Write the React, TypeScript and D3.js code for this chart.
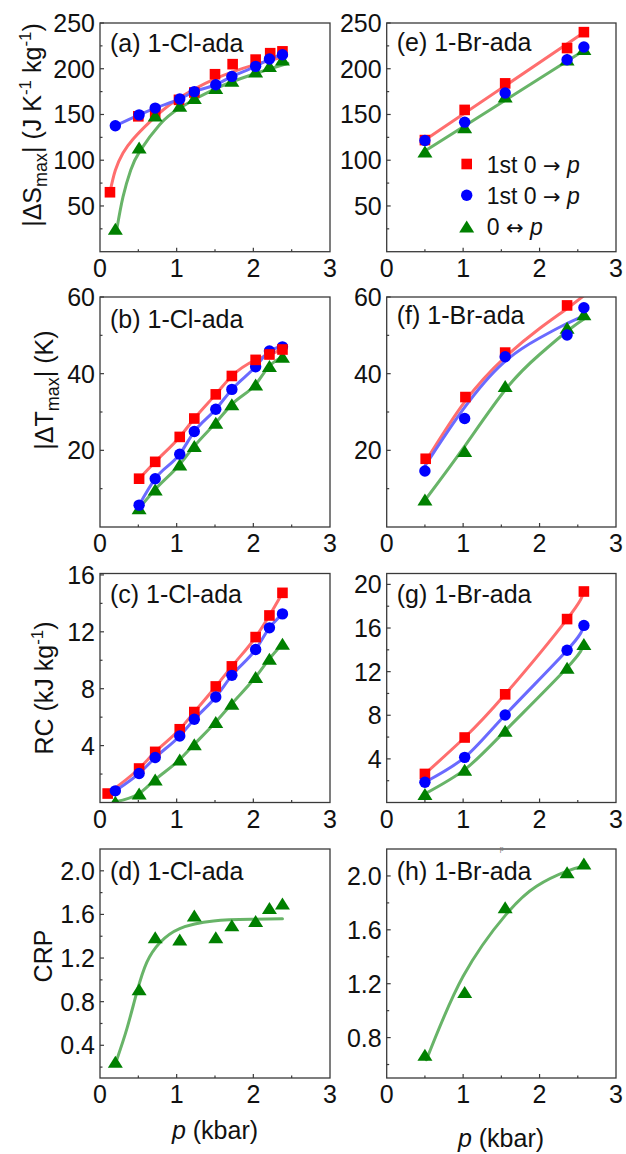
import React from 'react';
import * as d3 from 'd3';

// ---------------- DATA ----------------
// 1-Cl-ada pressures (kbar)
const clP = [0.2, 0.51, 0.72, 1.04, 1.23, 1.51, 1.72, 2.03, 2.21, 2.38];
const clPRedA = [0.13, 0.5, 0.72, 1.03, 1.23, 1.5, 1.73, 2.03, 2.22, 2.38];
const clPRedC = [0.1, 0.51, 0.72, 1.04, 1.23, 1.51, 1.72, 2.03, 2.21, 2.38];
const clPb = [0.51, 0.72, 1.04, 1.23, 1.51, 1.72, 2.03, 2.21, 2.38];
// 1-Br-ada pressures (kbar)
const brP = [0.5, 1.02, 1.55, 2.36, 2.58];
const brPRedF = [0.51, 1.03, 1.55, 2.36];

// (a) |ΔS_max| 1-Cl-ada
const aRed = [65, 148, 152, 166, 174, 194, 205, 210, 217, 219];
const aBlue = [137.6, 149.6, 157, 167, 175, 182.5, 191.6, 202.6, 210.6, 215.3];
const aGreen = [25, 114, 149, 159.5, 168, 179, 187, 197, 203, 210];
const aRedFitP = [0.13, 0.2, 0.3, 0.43, 0.65, 1.0, 1.5, 2.0, 2.4];
const aRedFit = [65, 89, 108, 123, 142, 166, 189, 204, 213];
const aGreenFitP = [0.22, 0.3, 0.4, 0.52, 0.78, 1.04, 1.5, 2.0, 2.45];
const aGreenFit = [25, 60, 89, 110, 139, 157, 178, 194, 206];

// (b) |ΔT_max| 1-Cl-ada
const bRed = [12.6, 17.0, 23.5, 28.3, 34.6, 39.4, 43.6, 45.0, 46.3];
const bBlue = [5.7, 12.6, 19.0, 24.9, 30.7, 35.9, 41.8, 45.9, 47.0];
const bGreen = [4.9, 9.8, 16.3, 21.1, 27.2, 32.0, 37.2, 42.0, 44.4];

// (c) RC 1-Cl-ada
const cRed = [0.63, 2.39, 3.56, 5.15, 6.36, 8.16, 9.57, 11.63, 13.15, 14.74];
const cBlue = [0.82, 2.04, 3.16, 4.68, 5.85, 7.42, 8.94, 10.76, 12.28, 13.26];
const cGreen = [0.05, 0.63, 1.61, 3.02, 4.09, 5.66, 6.95, 8.82, 10.1, 11.16];

// (d) CRP 1-Cl-ada
const dGreen = [0.25, 0.915, 1.39, 1.37, 1.59, 1.39, 1.5, 1.54, 1.66, 1.7];
const dFitP = [0.22, 0.35, 0.48, 0.61, 0.78, 1.04, 1.48, 2.0, 2.38];
const dFit = [0.27, 0.55, 0.885, 1.16, 1.34, 1.47, 1.54, 1.555, 1.56];

// (e) |ΔS_max| 1-Br-ada
const eRed = [122, 155, 184, 222.6, 240];
const eBlue = [121.5, 141.6, 173.4, 209.9, 223.7];
const eGreen = [109.5, 136, 169.7, 210, 221.5];
const eRedFitP = [0.5, 2.57];
const eRedFit = [122, 239];
const eGreenFitP = [0.5, 2.6];
const eGreenFit = [110, 221];

// (f) |ΔT_max| 1-Br-ada
const fRed = [17.8, 33.9, 45.5, 57.8];
const fBlue = [14.6, 28.3, 44.4, 50.1, 57.2];
const fGreen = [7.2, 19.8, 36.8, 52.0, 55.5];
const fRedFitP = [0.5, 1.03, 1.55, 2.0, 2.36, 2.62];
const fRedFit = [16.8, 32.9, 44.3, 51.8, 57.0, 61];
const fBlueFitP = [0.5, 1.0, 1.53, 2.0, 2.3, 2.57];
const fBlueFit = [15.9, 30.7, 42.9, 49.3, 52.5, 55.0];
const fGreenFitP = [0.52, 1.0, 1.56, 2.0, 2.38, 2.62];
const fGreenFit = [7.5, 20.5, 36.0, 45.0, 51.4, 54.8];

// (g) RC 1-Br-ada
const gRed = [2.62, 5.96, 9.92, 16.82, 19.35];
const gBlue = [1.86, 4.14, 8.03, 13.96, 16.24];
const gGreen = [0.79, 3.01, 6.57, 12.35, 14.54];

// (h) CRP 1-Br-ada
const hGreen = [0.672, 1.138, 1.768, 2.028, 2.093];
const hFitP = [0.52, 1.0, 1.56, 1.96, 2.36, 2.62];
const hFit = [0.635, 1.255, 1.713, 1.924, 2.036, 2.08];

// axis ticks
const xTicks = [0, 1, 2, 3];
const xMinor = [0.5, 1.5, 2.5];
const sTicks = [50, 100, 150, 200, 250];
const sMinor = [25, 75, 125, 175, 225];
const tTicks = [20, 40, 60];
const tMinor = [10, 30, 50];
const rcClTicks = [4, 8, 12, 16];
const rcClMinor = [2, 6, 10, 14];
const rcBrTicks = [4, 8, 12, 16, 20];
const rcBrMinor = [2, 6, 10, 14, 18];
const crpClTicks = [0.4, 0.8, 1.2, 1.6, 2.0];
const crpClMinor = [0.2, 0.6, 1.0, 1.4, 1.8];
const crpBrTicks = [0.8, 1.2, 1.6, 2.0];
const crpBrMinor = [0.6, 1.0, 1.4, 1.8];

const legendPre = ['1st 0 ', '1st 0 ', '0 '];
const legendArrow = ['\u2192', '\u2192', '\u2194'];

// ---------------- STYLE ----------------
const FONT = "Arial, 'Liberation Sans', Helvetica, sans-serif";
const MARK: Record<string, string> = { red: '#ff0000', blue: '#0000ff', green: '#008000' };
const LINEC: Record<string, string> = { red: '#ff6e6e', blue: '#6a6aff', green: '#68b468' };

type Kind = 'red' | 'blue' | 'green';
type S = { kind: Kind; p: number[]; v: number[]; fit?: boolean };

const COLS = [[100, 330], [386.7, 616]];
const ROWS = [[23, 251.7], [297, 527], [573.5, 802.5], [849, 1078]];

function Marker({ kind, x, y }: { kind: Kind; x: number; y: number }) {
  if (kind === 'red') return <rect x={x - 5.3} y={y - 5.3} width={10.6} height={10.6} fill={MARK.red} />;
  if (kind === 'blue') return <circle cx={x} cy={y} r={5.7} fill={MARK.blue} />;
  return <path d={`M${x},${y - 6} L${x + 7.5},${y + 6} L${x - 7.5},${y + 6} Z`} fill={MARK.green} />;
}

type PanelCfg = {
  id: string;
  col: number;
  row: number;
  yDomain: [number, number];
  yTicks: number[];
  yMinor: number[];
  yFmt: (v: number) => string;
  points: S[];
  lines: S[];
  label: string;
  labelDy: number;
};

function Panel({ cfg }: { cfg: PanelCfg }) {
  const [x0, x1] = COLS[cfg.col];
  const [y0, y1] = ROWS[cfg.row];
  const x = d3.scaleLinear().domain([0, 3]).range([x0, x1]);
  const y = d3.scaleLinear().domain(cfg.yDomain).range([y1, y0]);
  const mkLine = (fit?: boolean) =>
    d3
      .line<[number, number]>()
      .x((d) => x(d[0]))
      .y((d) => y(d[1]))
      .curve(fit ? d3.curveNatural : d3.curveMonotoneX);
  const clipId = `clip-${cfg.id}`;
  return (
    <g>
      <defs>
        <clipPath id={clipId}>
          <rect x={x0} y={y0} width={x1 - x0} height={y1 - y0} />
        </clipPath>
      </defs>
      <g clipPath={`url(#${clipId})`}>
        {cfg.lines.map((s, i) => (
          <path
            key={i}
            d={mkLine(s.fit)(s.p.map((p, j) => [p, s.v[j]] as [number, number])) || ''}
            fill="none"
            stroke={LINEC[s.kind]}
            strokeWidth={3}
            strokeLinecap="round"
          />
        ))}
        {cfg.points.map((s, i) => (
          <g key={i}>
            {s.p.map((p, j) => (
              <Marker key={j} kind={s.kind} x={x(p)} y={y(s.v[j])} />
            ))}
          </g>
        ))}
      </g>
      <rect x={x0} y={y0} width={x1 - x0} height={y1 - y0} fill="none" stroke="#3a3a3a" strokeWidth={1.3} />
      {xTicks.map((t) => (
        <g key={`xt${t}`}>
          {t > 0 && t < 3 && <line x1={x(t)} x2={x(t)} y1={y1} y2={y1 - 4} stroke="#3a3a3a" strokeWidth={1.2} />}
          <text x={x(t)} y={y1 + 25} textAnchor="middle" fontSize={25} fontFamily={FONT} fill="#111">
            {t}
          </text>
        </g>
      ))}
      {xMinor.map((t) => (
        <line key={`xm${t}`} x1={x(t)} x2={x(t)} y1={y1} y2={y1 - 2.5} stroke="#3a3a3a" strokeWidth={1.2} />
      ))}
      {cfg.yTicks.map((t) => (
        <g key={`yt${t}`}>
          <line x1={x0} x2={x0 + 4} y1={y(t)} y2={y(t)} stroke="#3a3a3a" strokeWidth={1.2} />
          <text x={x0 - 5} y={y(t)} dy="0.36em" textAnchor="end" fontSize={25} fontFamily={FONT} fill="#111">
            {cfg.yFmt(t)}
          </text>
        </g>
      ))}
      {cfg.yMinor.map((t) => (
        <line key={`ym${t}`} x1={x0} x2={x0 + 2.5} y1={y(t)} y2={y(t)} stroke="#3a3a3a" strokeWidth={1.2} />
      ))}
      <text x={x0 + 10} y={y0 + cfg.labelDy} fontSize={25} fontFamily={FONT} fill="#111">
        {cfg.label}
      </text>
    </g>
  );
}

const fmt0 = (v: number) => d3.format('d')(v);
const fmt1 = (v: number) => d3.format('.1f')(v);

const panels: PanelCfg[] = [
  {
    id: 'a', col: 0, row: 0, yDomain: [0, 250], yTicks: sTicks, yMinor: sMinor, yFmt: fmt0,
    points: [
      { kind: 'red', p: clPRedA, v: aRed },
      { kind: 'green', p: clP, v: aGreen },
      { kind: 'blue', p: clP, v: aBlue },
    ],
    lines: [
      { kind: 'red', p: aRedFitP, v: aRedFit, fit: true },
      { kind: 'green', p: aGreenFitP, v: aGreenFit, fit: true },
      { kind: 'blue', p: clP, v: aBlue },
    ],
    label: '(a) 1-Cl-ada', labelDy: 29,
  },
  {
    id: 'b', col: 0, row: 1, yDomain: [0, 60], yTicks: tTicks, yMinor: tMinor, yFmt: fmt0,
    points: [
      { kind: 'green', p: clPb, v: bGreen },
      { kind: 'blue', p: clPb, v: bBlue },
      { kind: 'red', p: clPb, v: bRed },
    ],
    lines: [
      { kind: 'red', p: clPb, v: bRed },
      { kind: 'green', p: clPb, v: bGreen },
      { kind: 'blue', p: clPb, v: bBlue },
    ],
    label: '(b) 1-Cl-ada', labelDy: 31,
  },
  {
    id: 'c', col: 0, row: 2, yDomain: [0, 16.1], yTicks: rcClTicks, yMinor: rcClMinor, yFmt: fmt0,
    points: [
      { kind: 'red', p: clPRedC, v: cRed },
      { kind: 'green', p: clP, v: cGreen },
      { kind: 'blue', p: clP, v: cBlue },
    ],
    lines: [
      { kind: 'red', p: clPRedC, v: cRed },
      { kind: 'green', p: clP, v: cGreen },
      { kind: 'blue', p: clP, v: cBlue },
    ],
    label: '(c) 1-Cl-ada', labelDy: 29,
  },
  {
    id: 'd', col: 0, row: 3, yDomain: [0.1, 2.2], yTicks: crpClTicks, yMinor: crpClMinor, yFmt: fmt1,
    points: [{ kind: 'green', p: clP, v: dGreen }],
    lines: [{ kind: 'green', p: dFitP, v: dFit, fit: true }],
    label: '(d) 1-Cl-ada', labelDy: 31,
  },
  {
    id: 'e', col: 1, row: 0, yDomain: [0, 250], yTicks: sTicks, yMinor: sMinor, yFmt: fmt0,
    points: [
      { kind: 'red', p: brP, v: eRed },
      { kind: 'green', p: brP, v: eGreen },
      { kind: 'blue', p: brP, v: eBlue },
    ],
    lines: [
      { kind: 'red', p: eRedFitP, v: eRedFit, fit: true },
      { kind: 'green', p: eGreenFitP, v: eGreenFit, fit: true },
    ],
    label: '(e) 1-Br-ada', labelDy: 28,
  },
  {
    id: 'f', col: 1, row: 1, yDomain: [0, 60], yTicks: tTicks, yMinor: tMinor, yFmt: fmt0,
    points: [
      { kind: 'red', p: brPRedF, v: fRed },
      { kind: 'green', p: brP, v: fGreen },
      { kind: 'blue', p: brP, v: fBlue },
    ],
    lines: [
      { kind: 'red', p: fRedFitP, v: fRedFit, fit: true },
      { kind: 'green', p: fGreenFitP, v: fGreenFit, fit: true },
      { kind: 'blue', p: fBlueFitP, v: fBlueFit, fit: true },
    ],
    label: '(f) 1-Br-ada', labelDy: 27,
  },
  {
    id: 'g', col: 1, row: 2, yDomain: [0, 21], yTicks: rcBrTicks, yMinor: rcBrMinor, yFmt: fmt0,
    points: [
      { kind: 'red', p: brP, v: gRed },
      { kind: 'green', p: brP, v: gGreen },
      { kind: 'blue', p: brP, v: gBlue },
    ],
    lines: [
      { kind: 'red', p: brP, v: gRed, fit: true },
      { kind: 'green', p: brP, v: gGreen, fit: true },
      { kind: 'blue', p: brP, v: gBlue, fit: true },
    ],
    label: '(g) 1-Br-ada', labelDy: 29,
  },
  {
    id: 'h', col: 1, row: 3, yDomain: [0.5, 2.2], yTicks: crpBrTicks, yMinor: crpBrMinor, yFmt: fmt1,
    points: [{ kind: 'green', p: brP, v: hGreen }],
    lines: [{ kind: 'green', p: hFitP, v: hFit, fit: true }],
    label: '(h) 1-Br-ada', labelDy: 31,
  },
];

const legendKinds: Kind[] = ['red', 'blue', 'green'];

export default function App() {
  const tStyle = { fontFamily: FONT, fill: '#111' } as const;
  return (
    <svg
      width={626}
      height={1154}
      viewBox="0 0 626 1154"
      style={{ position: 'absolute', left: 0, top: 0, background: '#fff' }}
    >
      <rect x={0} y={0} width={626} height={1154} fill="#fff" />
      {panels.map((p) => (
        <Panel key={p.id} cfg={p} />
      ))}

      {/* legend in (e) */}
      {legendKinds.map((k, i) => (
        <g key={k}>
          <Marker kind={k} x={466.7} y={164 + i * 31.3} />
          <text x={486.7} y={172.5 + i * 31.3} fontSize={23} {...tStyle}>
            {legendPre[i]}
            <tspan fontFamily="'DejaVu Sans', sans-serif" fontSize={21}>{legendArrow[i]}</tspan>
            {' '}
            <tspan fontStyle="italic">p</tspan>
          </text>
        </g>
      ))}

      {/* y-axis titles */}
      <text transform="translate(41,125) rotate(-90)" textAnchor="middle" fontSize={25} {...tStyle}>
        |ΔS<tspan fontSize={18} dy={6}>max</tspan>
        <tspan dy={-6}>| (J K</tspan>
        <tspan fontSize={17} dy={-10}>-1</tspan>
        <tspan dy={10}> kg</tspan>
        <tspan fontSize={17} dy={-10}>-1</tspan>
        <tspan dy={10}>)</tspan>
      </text>
      <text transform="translate(53,390) rotate(-90)" textAnchor="middle" fontSize={25} {...tStyle}>
        |ΔT<tspan fontSize={18} dy={6}>max</tspan>
        <tspan dy={-6}>| (K)</tspan>
      </text>
      <text transform="translate(53,688) rotate(-90)" textAnchor="middle" fontSize={25} {...tStyle}>
        RC (kJ kg<tspan fontSize={17} dy={-10}>-1</tspan>
        <tspan dy={10}>)</tspan>
      </text>
      <text transform="translate(52,956) rotate(-90)" textAnchor="middle" fontSize={25} {...tStyle}>
        CRP
      </text>

      {/* x-axis titles */}
      <text x={215} y={1139} textAnchor="middle" fontSize={25} {...tStyle}>
        <tspan fontStyle="italic">p</tspan> (kbar)
      </text>
      <text x={501} y={1147} textAnchor="middle" fontSize={25} {...tStyle}>
        <tspan fontStyle="italic">p</tspan> (kbar)
      </text>
      <text x={501.7} y={851} textAnchor="middle" fontSize={7} fill="#777" fontFamily={FONT}>
        p
      </text>
    </svg>
  );
}
